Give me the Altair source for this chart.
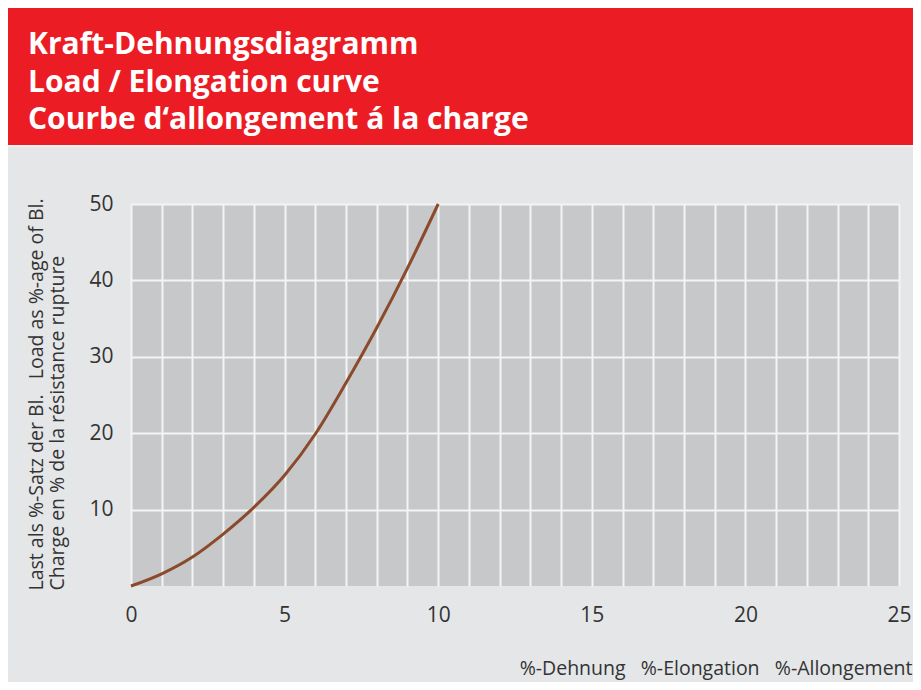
import altair as alt
import pandas as pd

# --- data ---
elongation = [0, 1, 2, 3, 4, 5, 6, 7, 8, 9, 10]
load = [0, 1.6, 3.8, 6.8, 10.3, 14.5, 19.9, 26.6, 33.8, 41.6, 50]
x_ticks = list(range(0, 26))
y_ticks = [10, 20, 30, 40, 50]
title_lines = [
    "Kraft-Dehnungsdiagramm",
    "Load / Elongation curve",
    "Courbe d\u2018allongement á la charge",
]
y_title_lines = [
    "Last als %-Satz der Bl.\u00a0\u00a0\u00a0Load as %-age of Bl.",
    "Charge en % de la résistance rupture",
]
x_title = "%-Dehnung\u00a0\u00a0\u00a0%-Elongation\u00a0\u00a0\u00a0%-Allongement"

df = pd.DataFrame({"elong": elongation, "load": load})
one = pd.DataFrame({"k": [0]})

FONT = "Open Sans"
TXT = "#333333"

line = alt.Chart(df).mark_line(
    color="#8b4a2c", strokeWidth=3, interpolate="monotone"
).encode(
    x=alt.X(
        "elong:Q",
        scale=alt.Scale(domain=[0, 25], nice=False),
        axis=alt.Axis(
            values=x_ticks,
            labelExpr="datum.value % 5 === 0 ? datum.label : ''",
            labelFlush=False,
            grid=True, gridColor="#f4f4f4", gridWidth=2,
            ticks=False, domain=False,
            labelFont=FONT, labelFontSize=21, labelColor=TXT, labelPadding=18,
            title=x_title, titleFont=FONT, titleFontSize=19.5,
            titleFontWeight="normal", titleColor=TXT,
            titleX=781, titleY=82, titleAlign="right", titleBaseline="middle",
        ),
    ),
    y=alt.Y(
        "load:Q",
        scale=alt.Scale(domain=[0, 50], nice=False),
        axis=alt.Axis(
            values=y_ticks,
            labelFlush=False,
            grid=True, gridColor="#f4f4f4", gridWidth=2,
            ticks=False, domain=False,
            labelFont=FONT, labelFontSize=21, labelColor=TXT, labelPadding=18,
            title=y_title_lines, titleFont=FONT, titleFontSize=19.5,
            titleFontWeight="normal", titleColor=TXT,
            titleAngle=-90, titleX=-104, titleY=386,
            titleAlign="left", titleBaseline="top", titleLineHeight=21,
        ),
    ),
)

header = alt.Chart(one).mark_rect(color="#ec1c24").encode(
    x=alt.value(-123), x2=alt.value(782), y=alt.value(-196), y2=alt.value(-59)
)

header_edge = alt.Chart(one).mark_rect(color="#f3eeee").encode(
    x=alt.value(-123), x2=alt.value(782), y=alt.value(-59), y2=alt.value(-57)
)

header_text = alt.Chart(one).mark_text(
    text=title_lines, font=FONT, fontSize=30, fontWeight="bold", color="white",
    align="left", baseline="alphabetic", lineHeight=37.5,
).encode(x=alt.value(-103), y=alt.value(-150))

chart = alt.layer(header, header_edge, header_text, line).properties(
    width=768, height=382,
    background="#e4e6e8",
    padding={"left": 123, "top": 196, "right": 14, "bottom": 96},
    autosize=alt.AutoSizeParams(type="none"),
).configure_view(fill="#c6c8ca", stroke=None)

chart.save("out.html", embed_options={"renderer": "svg", "actions": False})
